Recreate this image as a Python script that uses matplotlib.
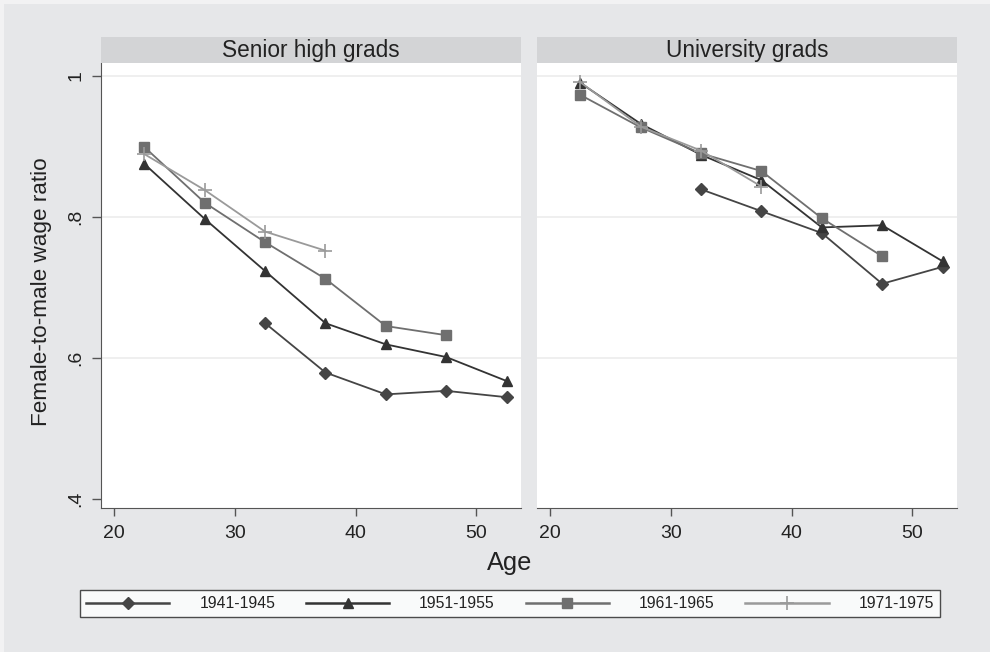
import matplotlib.pyplot as plt
from matplotlib.lines import Line2D

plt.rcParams['font.family'] = ['Liberation Sans', 'DejaVu Sans']

# five-year age groups (midpoints)
ages = [22.5, 27.5, 32.5, 37.5, 42.5, 47.5, 52.5]
panels = ["Senior high grads", "University grads"]
cohorts = ["1941-1945", "1951-1955", "1961-1965", "1971-1975"]

# female-to-male wage ratio by cohort, None where the cohort is not observed
senior_high = {
    "1941-1945": [None, None, 0.649, 0.579, 0.548, 0.553, 0.544],
    "1951-1955": [0.875, 0.797, 0.723, 0.649, 0.619, 0.601, 0.567],
    "1961-1965": [0.899, 0.820, 0.764, 0.712, 0.645, 0.632, None],
    "1971-1975": [0.889, 0.838, 0.779, 0.752, None, None, None],
}
university = {
    "1941-1945": [None, None, 0.839, 0.808, 0.777, 0.705, 0.729],
    "1951-1955": [0.990, 0.932, 0.888, 0.852, 0.785, 0.788, 0.737],
    "1961-1965": [0.973, 0.927, 0.890, 0.865, 0.798, 0.744, None],
    "1971-1975": [0.991, 0.928, 0.894, 0.843, None, None, None],
}

yticks = [0.4, 0.6, 0.8, 1.0]
ytick_labels = [".4", ".6", ".8", "1"]
xticks = [20, 30, 40, 50]

styles = {
    "1941-1945": dict(color="#454545", marker="D", ms=6.5),
    "1951-1955": dict(color="#333333", marker="^", ms=7),
    "1961-1965": dict(color="#6f6f6f", marker="s", ms=6.5),
    "1971-1975": dict(color="#9a9a9a", marker="+", ms=10, mew=1.2),
}

bg = "#e6e7e9"
fig = plt.figure(figsize=(9.9, 6.52), dpi=100, facecolor=bg)
W, H = 990, 652


def px_axes(x0, y0, x1, y1):
    return fig.add_axes([x0 / W, 1 - y1 / H, (x1 - x0) / W, (y1 - y0) / H])


for i, (title, data) in enumerate(zip(panels, [senior_high, university])):
    x0 = 101 if i == 0 else 537
    ax = px_axes(x0, 63, x0 + 420, 508)
    ax.set_facecolor("white")
    for c in cohorts:
        pts = [(a, v) for a, v in zip(ages, data[c]) if v is not None]
        xs, ys = zip(*pts)
        ax.plot(xs, ys, lw=1.3, **styles[c])
    ax.set_xlim(18.9, 53.7)
    ax.set_ylim(0.3867, 1.0184)
    for y in [0.6, 0.8, 1.0]:
        ax.axhline(y, color="#ececec", lw=1.2, zorder=0)
    ax.set_xticks(xticks)
    ax.set_xticklabels([str(t) for t in xticks], fontsize=14, color="#222222")
    ax.tick_params(axis="x", length=6, width=1, color="#555555", pad=6)
    for s in ["top", "right"]:
        ax.spines[s].set_visible(False)
    ax.spines["bottom"].set_color("#555555")
    ax.spines["left"].set_color("#555555")
    if i == 0:
        ax.set_yticks(yticks)
        ax.set_yticklabels(ytick_labels, fontsize=14, rotation=90,
                           va="center", color="#222222")
        ax.tick_params(axis="y", length=6.5, width=1, color="#555555", pad=5.5)
    else:
        ax.set_yticks([])
        ax.spines["left"].set_visible(False)

    # panel strip
    sax = px_axes(x0, 37, x0 + 420, 63)
    sax.set_facecolor("#d3d4d6")
    sax.set_xticks([])
    sax.set_yticks([])
    for s in sax.spines.values():
        s.set_visible(False)
    sax.text(0.5, 0.5, title, ha="center", va="center", fontsize=16.3,
             color="#222222", transform=sax.transAxes)

fig.text(42 / W, 1 - 292 / H, "Female-to-male wage ratio", rotation=90,
         ha="center", va="center", fontsize=16.2, color="#222222")
fig.text(510 / W, 1 - 563 / H, "Age", ha="center", va="center",
         fontsize=18.3, color="#222222")

handles = [Line2D([], [], lw=1.8, **styles[c]) for c in cohorts]
leg = fig.legend(handles, cohorts, ncol=4, mode="expand",
                 bbox_to_anchor=(80 / W, 1 - 625 / H, 860 / W, 43 / H),
                 loc="center", frameon=True, fancybox=False,
                 handlelength=5.3, handletextpad=1.9, borderaxespad=0,
                 prop={"family": ["Liberation Sans Narrow", "Liberation Sans"],
                       "size": 11.3})
leg.get_frame().set_edgecolor("#222222")
leg.get_frame().set_linewidth(1.0)
for t in leg.get_texts():
    t.set_color("#222222")

# thin light border along the top and left edges
fig.add_artist(Line2D([0, 1], [1 - 2 / H, 1 - 2 / H], color="#f2f2f3",
                      lw=3, transform=fig.transFigure))
fig.add_artist(Line2D([2 / W, 2 / W], [0, 1], color="#f2f2f3",
                      lw=3, transform=fig.transFigure))

fig.savefig("out.png", dpi=100, facecolor=bg)
